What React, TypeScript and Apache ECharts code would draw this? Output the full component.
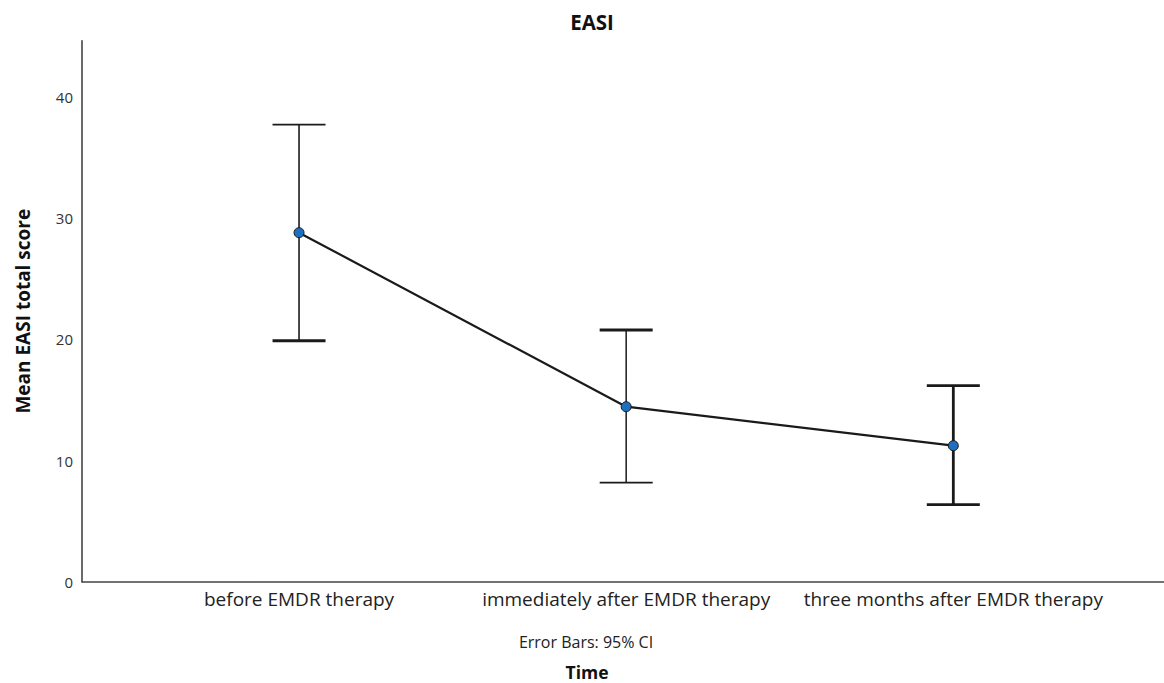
import React, { useEffect, useRef } from "react";
import * as echarts from "echarts";

const categories = [
  "before EMDR therapy",
  "immediately after EMDR therapy",
  "three months after EMDR therapy",
];
const means = [28.82, 14.45, 11.23];
const ciLower = [19.9, 8.18, 6.36];
const ciUpper = [37.74, 20.78, 16.19];
const yTicks = [0, 10, 20, 30, 40];

// visual weights of the error bars (stem, upper cap, lower cap) as in the picture
const BAR_WIDTHS = [
  [1.6, 1.6, 3],
  [1.5, 3, 1.6],
  [2.8, 2.8, 2.8],
];

const FONT = "'Open Sans', 'Noto Sans', sans-serif";

export default function App() {
  const ref = useRef<HTMLDivElement>(null);

  useEffect(() => {
    if (!ref.current) return;
    const chart = echarts.init(ref.current, null, { renderer: "svg" });

    const lineData = means.map((m, i) => [i, m]);
    const errData = means.map((_, i) => [i, ciLower[i], ciUpper[i]]);

    chart.setOption({
      animation: false,
      backgroundColor: "#ffffff",
      title: {
        text: "EASI",
        left: 587,
        top: 6,
        textAlign: "center",
        textStyle: { fontFamily: FONT, fontSize: 20.5, fontWeight: "bold", color: "#111" },
      },
      grid: {
        left: 82,
        right: 0,
        top: 40.7,
        bottom: 101.3,
        containLabel: false,
        outerBoundsMode: "none",
      },
      xAxis: {
        type: "value",
        min: -0.6634,
        max: 2.644,
        splitLine: { show: false },
        axisTick: { show: false },
        axisLine: { show: true, lineStyle: { color: "#444", width: 1.6 } },
        axisLabel: {
          customValues: categories.map((_, i) => i),
          formatter: (v: number) => categories[Math.round(v)] ?? "",
          fontFamily: FONT,
          fontSize: 19,
          color: "#222",
          margin: 8,
        },
      },
      yAxis: {
        type: "value",
        min: 0,
        max: 44.67,
        interval: 10,
        name: "Mean EASI total score",
        nameLocation: "middle",
        nameGap: 50,
        nameTextStyle: { fontFamily: FONT, fontSize: 19, fontWeight: "bold", color: "#111" },
        splitLine: { show: false },
        axisTick: { show: false },
        axisLine: { show: true, onZero: false, lineStyle: { color: "#444", width: 1.6 } },
        axisLabel: {
          customValues: yTicks,
          formatter: (v: number) => String(v),
          fontFamily: FONT,
          fontSize: 15,
          color: "#333",
          margin: 9,
        },
      },
      graphic: [
        {
          type: "text",
          x: 586,
          y: 642,
          style: {
            text: "Error Bars: 95% CI",
            font: `16px ${FONT}`,
            fill: "#222",
            textAlign: "center",
            textVerticalAlign: "middle",
          },
        },
        {
          type: "text",
          x: 587,
          y: 672,
          style: {
            text: "Time",
            font: `bold 17.5px ${FONT}`,
            fill: "#111",
            textAlign: "center",
            textVerticalAlign: "middle",
          },
        },
      ],
      series: [
        {
          type: "custom",
          data: errData,
          z: 2,
          renderItem: (params: any, api: any) => {
            const i = params.dataIndex;
            const x = api.value(0);
            const lo = api.coord([x, api.value(1)]);
            const hi = api.coord([x, api.value(2)]);
            const hw = 26.5;
            const w = BAR_WIDTHS[i] || [1.6, 1.6, 1.6];
            const col = "#1a1a1a";
            return {
              type: "group",
              children: [
                {
                  type: "line",
                  shape: { x1: lo[0], y1: lo[1], x2: hi[0], y2: hi[1] },
                  style: { stroke: col, lineWidth: w[0] },
                },
                {
                  type: "line",
                  shape: { x1: hi[0] - hw, y1: hi[1], x2: hi[0] + hw, y2: hi[1] },
                  style: { stroke: col, lineWidth: w[1] },
                },
                {
                  type: "line",
                  shape: { x1: lo[0] - hw, y1: lo[1], x2: lo[0] + hw, y2: lo[1] },
                  style: { stroke: col, lineWidth: w[2] },
                },
              ],
            };
          },
        },
        {
          type: "line",
          data: lineData,
          z: 3,
          symbol: "circle",
          symbolSize: 10,
          lineStyle: { color: "#1a1a1a", width: 2.2 },
          itemStyle: { color: "#1f6fbf", borderColor: "#1a1a1a", borderWidth: 1 },
        },
      ],
    });

    return () => chart.dispose();
  }, []);

  return (
    <div
      ref={ref}
      style={{ position: "absolute", left: 0, top: 0, width: 1164, height: 683 }}
    />
  );
}
